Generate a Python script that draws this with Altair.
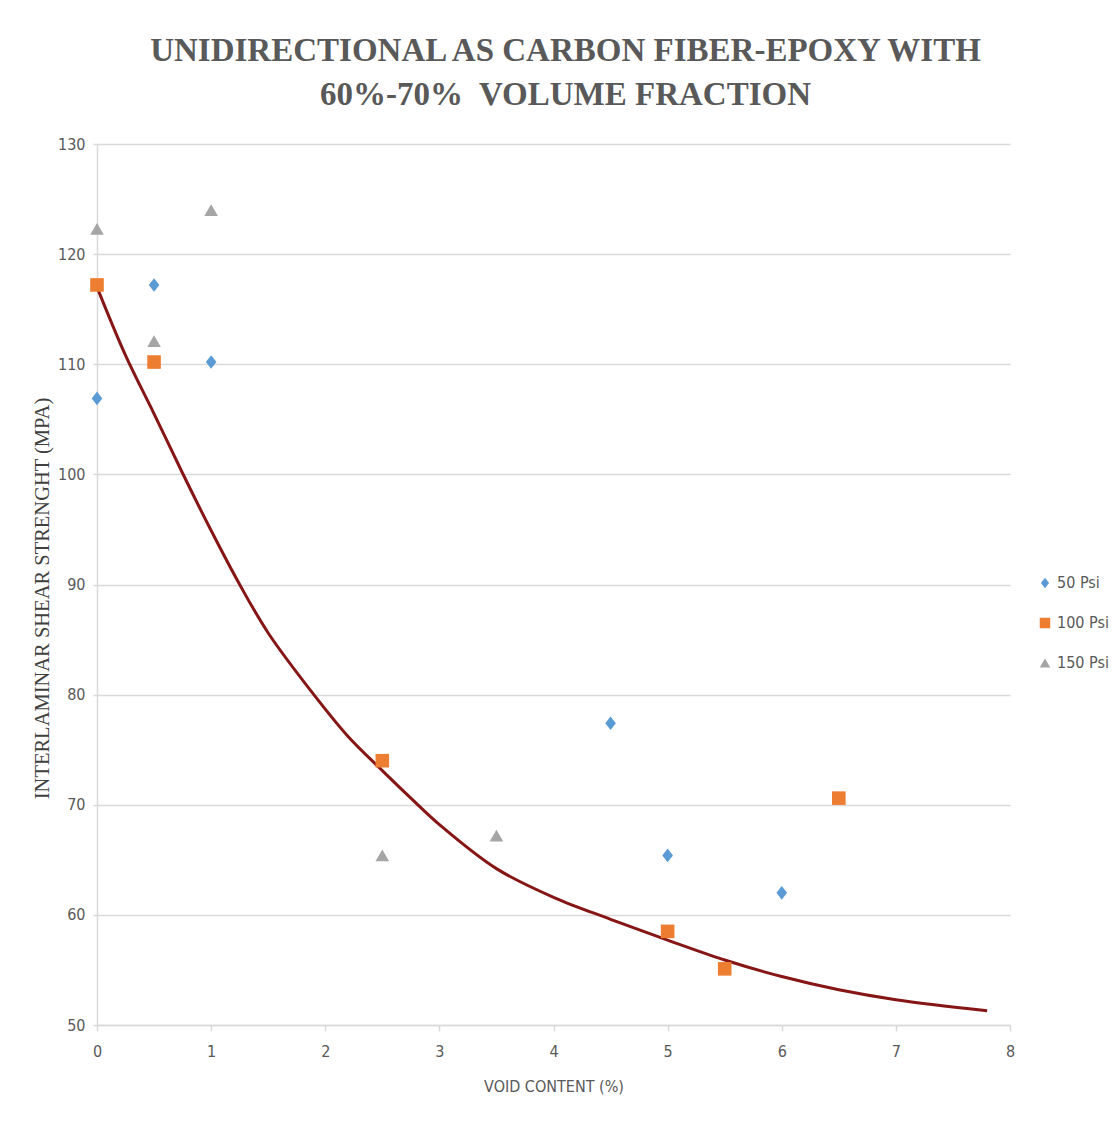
import altair as alt
import pandas as pd

# ---- data ----
series_names = ["50 Psi", "100 Psi", "150 Psi"]

psi50_x = [0, 0.5, 1, 4.5, 5, 6]
psi50_y = [106.9, 117.2, 110.2, 77.4, 65.4, 62.0]

psi100_x = [0, 0.5, 2.5, 5, 5.5, 6.5]
psi100_y = [117.2, 110.2, 74.0, 58.5, 55.1, 70.6]

psi150_x = [0, 0.5, 1, 2.5, 3.5]
psi150_y = [122.3, 112.1, 124.0, 65.4, 67.2]

curve_x = [0, 0.25, 0.5, 0.75, 1.0, 1.25, 1.5, 1.9, 2.2, 2.5, 2.75, 3.0, 3.5, 4.0, 4.5, 5.0, 5.5, 6.0, 6.5, 7.0, 7.8]
curve_y = [117.0, 110.8, 105.5, 100.1, 94.9, 90.0, 85.6, 80.0, 76.2, 73.1, 70.6, 68.2, 64.2, 61.6, 59.6, 57.7, 55.9, 54.4, 53.2, 52.3, 51.3]

x_ticks = [0, 1, 2, 3, 4, 5, 6, 7, 8]
y_ticks = [50, 60, 70, 80, 90, 100, 110, 120, 130]

colors = ["#5B9BD5", "#ED7D31", "#A5A5A5"]
shapes = ["M0,-1L0.78,0L0,1L-0.78,0Z", "square", "triangle-up"]

rows = []
for name, xs, ys in zip(series_names, [psi50_x, psi100_x, psi150_x], [psi50_y, psi100_y, psi150_y]):
    for x, y in zip(xs, ys):
        rows.append({"void": x, "ilss": y, "series": name})
points_df = pd.DataFrame(rows)
curve_df = pd.DataFrame({"void": curve_x, "ilss": curve_y})

gray_txt = "#595959"
grid_c = "#D9D9D9"
narrow = "Liberation Sans Narrow, DejaVu Sans Condensed, Roboto, sans-serif"

x_enc = alt.X(
    "void:Q",
    scale=alt.Scale(domain=[0, 8], nice=False),
    axis=alt.Axis(
        values=x_ticks, format="d", labelFlush=False, grid=False, ticks=True, tickSize=6,
        tickColor=grid_c, tickWidth=1.5, domainColor=grid_c, domainWidth=1.5,
        labelFont=narrow, labelFontSize=16, labelColor=gray_txt, labelPadding=12,
        title="VOID CONTENT (%)", titleFont=narrow, titleFontSize=16,
        titleFontWeight="normal", titleColor=gray_txt,
        titleX=456.5, titleY=61, titleBaseline="middle", titleAlign="center",
    ),
)
y_enc = alt.Y(
    "ilss:Q",
    scale=alt.Scale(domain=[50, 130], nice=False),
    axis=alt.Axis(
        values=y_ticks, format="d", labelFlush=False, grid=True, gridColor=grid_c,
        gridWidth=1.5, ticks=True, tickSize=4, tickColor=grid_c, tickWidth=1.5,
        domainColor=grid_c, domainWidth=1.5, labelFont=narrow, labelFontSize=16,
        labelColor=gray_txt, labelPadding=8,
        title="INTERLAMINAR SHEAR STRENGHT (MPA)", titleFont="Liberation Serif",
        titleFontSize=20.5, titleFontWeight="normal", titleColor="#404040",
        titleX=-55, titleY=454, titleAngle=270, titleBaseline="middle", titleAlign="center",
    ),
)

curve = alt.Chart(curve_df).mark_line(
    color="#861515", strokeWidth=3, interpolate="catmull-rom"
).encode(x=x_enc, y=y_enc)

points = alt.Chart(points_df).mark_point(filled=True, opacity=1, size=185).encode(
    x=alt.X("void:Q"),
    y=alt.Y("ilss:Q"),
    color=alt.Color(
        "series:N",
        scale=alt.Scale(domain=series_names, range=colors),
        legend=alt.Legend(
            title=None, orient="none", legendX=940, legendY=431, labelFont=narrow,
            labelFontSize=16, labelColor=gray_txt, symbolSize=110, rowPadding=24,
            labelOffset=4, symbolStrokeWidth=0,
        ),
    ),
    shape=alt.Shape("series:N", scale=alt.Scale(domain=series_names, range=shapes)),
)

chart = alt.layer(curve, points).properties(
    width=913,
    height=881,
    autosize=alt.AutoSizeParams(type="none"),
    padding={"left": 97, "top": 144, "right": 108, "bottom": 97},
    title=alt.TitleParams(
        text=["UNIDIRECTIONAL AS CARBON FIBER-EPOXY WITH", "60%-70%\u00a0 VOLUME FRACTION"],
        font="Liberation Serif", fontSize=33, fontWeight="bold", color=gray_txt,
        anchor="middle", dx=12, offset=24, lineHeight=44,
    ),
).configure(background="white").configure_view(stroke=None)

chart.save("out.html", embed_options={"renderer": "svg", "actions": False})
